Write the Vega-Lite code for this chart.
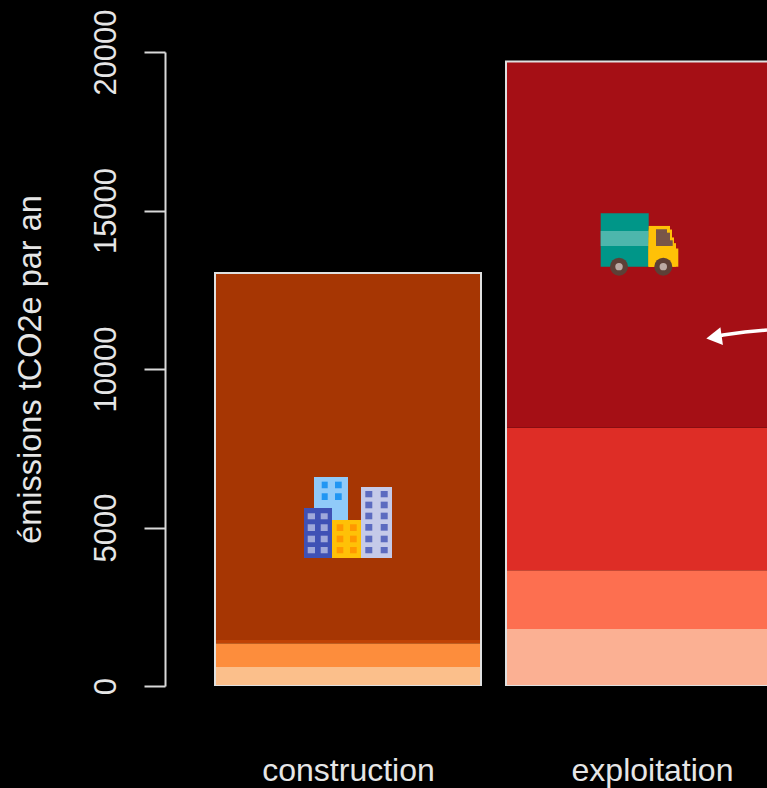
{"$schema":"https://vega.github.io/schema/vega-lite/v6.json","width":602,"height":634,"autosize":"none","padding":{"left":165,"top":52,"right":0,"bottom":102},"background":"#000000","view":{"stroke":null},
"datasets":{
"rects":[
{"part":"c1","x0":50,"x1":316,"y0":0,"y1":600},
{"part":"c2","x0":50,"x1":316,"y0":600,"y1":1350},
{"part":"c3","x0":50,"x1":316,"y0":1350,"y1":1450},
{"part":"c4","x0":50,"x1":316,"y0":1450,"y1":13030},
{"part":"e1","x0":341,"x1":633,"y0":0,"y1":1800},
{"part":"e2","x0":341,"x1":633,"y0":1800,"y1":3650},
{"part":"e3","x0":341,"x1":633,"y0":3650,"y1":8150},
{"part":"e4","x0":341,"x1":633,"y0":8150,"y1":19700},
{"part":"sky","x0":149,"x1":183,"y0":5237,"y1":6594},
{"part":"skywin","x0":156.7,"x1":162.7,"y0":6238,"y1":6446},
{"part":"skywin","x0":170,"x1":176.7,"y0":6238,"y1":6446},
{"part":"skywin","x0":156.7,"x1":162.7,"y0":5868,"y1":6080},
{"part":"skywin","x0":170,"x1":176.7,"y0":5868,"y1":6080},
{"part":"indigo","x0":139,"x1":167,"y0":4038,"y1":5616},
{"part":"indigowin","x0":142.7,"x1":150,"y0":5259,"y1":5449},
{"part":"indigowin","x0":155.7,"x1":162.7,"y0":5259,"y1":5449},
{"part":"indigowin","x0":142.7,"x1":150,"y0":4890,"y1":5102},
{"part":"indigowin","x0":155.7,"x1":162.7,"y0":4890,"y1":5102},
{"part":"indigowin","x0":142.7,"x1":150,"y0":4534,"y1":4742},
{"part":"indigowin","x0":155.7,"x1":162.7,"y0":4534,"y1":4742},
{"part":"indigowin","x0":142.7,"x1":150,"y0":4187,"y1":4385},
{"part":"indigowin","x0":155.7,"x1":162.7,"y0":4187,"y1":4385},
{"part":"amber","x0":167,"x1":196,"y0":4038,"y1":5237},
{"part":"amberwin","x0":171.7,"x1":178.3,"y0":4890,"y1":5102},
{"part":"amberwin","x0":185,"x1":191.7,"y0":4890,"y1":5102},
{"part":"amberwin","x0":171.7,"x1":178.3,"y0":4534,"y1":4742},
{"part":"amberwin","x0":185,"x1":191.7,"y0":4534,"y1":4742},
{"part":"amberwin","x0":171.7,"x1":178.3,"y0":4187,"y1":4385},
{"part":"amberwin","x0":185,"x1":191.7,"y0":4187,"y1":4385},
{"part":"lav","x0":196,"x1":227,"y0":4038,"y1":6278},
{"part":"lavwin","x0":200.3,"x1":207.3,"y0":5953,"y1":6152},
{"part":"lavwin","x0":215.7,"x1":222.7,"y0":5953,"y1":6152},
{"part":"lavwin","x0":200.3,"x1":207.3,"y0":5606,"y1":5815},
{"part":"lavwin","x0":215.7,"x1":222.7,"y0":5606,"y1":5815},
{"part":"lavwin","x0":200.3,"x1":207.3,"y0":5259,"y1":5468},
{"part":"lavwin","x0":215.7,"x1":222.7,"y0":5259,"y1":5468},
{"part":"lavwin","x0":200.3,"x1":207.3,"y0":4900,"y1":5111},
{"part":"lavwin","x0":215.7,"x1":222.7,"y0":4900,"y1":5111},
{"part":"lavwin","x0":200.3,"x1":207.3,"y0":4534,"y1":4742},
{"part":"lavwin","x0":215.7,"x1":222.7,"y0":4534,"y1":4742},
{"part":"lavwin","x0":200.3,"x1":207.3,"y0":4187,"y1":4385},
{"part":"lavwin","x0":215.7,"x1":222.7,"y0":4187,"y1":4385},
{"part":"teal","x0":435.7,"x1":483.7,"y0":13229,"y1":14914},
{"part":"tealstripe","x0":435.7,"x1":483.7,"y0":13882,"y1":14355},
{"part":"amber","x0":483.7,"x1":505,"y0":13229,"y1":14513},
{"part":"amber","x0":483.7,"x1":507,"y0":13229,"y1":14400},
{"part":"amber","x0":483.7,"x1":509,"y0":13229,"y1":14150},
{"part":"amber","x0":483.7,"x1":511,"y0":13229,"y1":13970},
{"part":"amber","x0":483.7,"x1":513.3,"y0":13229,"y1":13800},
{"part":"brown","x0":491,"x1":502,"y0":13882,"y1":14409},
{"part":"brown","x0":491,"x1":505,"y0":13882,"y1":14300},
{"part":"brown","x0":491,"x1":507.7,"y0":13882,"y1":14060}
],
"outlines":[
{"x0":50,"x1":316,"y0":0,"y1":13030},
{"x0":341,"x1":633,"y0":0,"y1":19700}
],
"wheels":[
{"x0":454,"y0":13229,"kind":"tyre"},
{"x0":498.3,"y0":13229,"kind":"tyre"},
{"x0":454,"y0":13229,"kind":"hub"},
{"x0":498.3,"y0":13229,"kind":"hub"}
],
"shaft":[
{"x0":552,"y0":11027},
{"x0":558,"y0":11074},
{"x0":580,"y0":11169},
{"x0":602,"y0":11232}
],
"head":[{"x0":549,"y0":11000}]
},
"encoding":{
"x":{"field":"x0","type":"quantitative","scale":{"domain":[0,602],"nice":false},"title":null,"axis":{"values":[183,487],"labelExpr":"datum.value==183?'construction':'exploitation'","domain":false,"ticks":false,"grid":false,"labelFont":"Liberation Sans","labelFontSize":32,"labelColor":"#e6e6e6","labelPadding":69.5}},
"y":{"field":"y0","type":"quantitative","scale":{"domain":[0,20000],"nice":false},"title":"émissions tCO2e par an","axis":{"values":[0,5000,10000,15000,20000],"format":"d","grid":false,"domainColor":"#d9d9d9","domainWidth":2,"tickColor":"#d9d9d9","tickWidth":2,"tickSize":21,"labelAngle":-90,"labelAlign":"center","labelBaseline":"bottom","labelFont":"Liberation Sans","labelFontSize":31,"labelColor":"#e6e6e6","labelPadding":22,"titleFont":"Liberation Sans","titleFontSize":32.5,"titleFontWeight":"normal","titleColor":"#e6e6e6","titlePadding":43}}
},
"layer":[
{"data":{"name":"rects"},"mark":{"type":"rect","clip":true},"encoding":{"x2":{"field":"x1"},"y2":{"field":"y1"},"color":{"field":"part","type":"nominal","legend":null,"scale":{"domain":["c1","c2","c3","c4","e1","e2","e3","e4","sky","skywin","indigo","indigowin","amber","amberwin","lav","lavwin","teal","tealstripe","brown"],"range":["#fbbf8b","#fd8d3c","#c04204","#a63603","#fbb093","#fd6f50","#de2d26","#a50f15","#90caf9","#2196f3","#3f51b5","#9fa8da","#ffc107","#ff9800","#c5cae9","#5c6bc0","#009688","#4db6ac","#795548"]}}}},
{"data":{"name":"outlines"},"mark":{"type":"rect","clip":true,"fillOpacity":0,"stroke":"#e0e0e0","strokeWidth":2},"encoding":{"x2":{"field":"x1"},"y2":{"field":"y1"}}},
{"data":{"name":"wheels"},"transform":[{"filter":"datum.kind=='tyre'"}],"mark":{"type":"point","shape":"circle","filled":true,"opacity":1,"size":324,"color":"#5d4037"}},
{"data":{"name":"wheels"},"transform":[{"filter":"datum.kind=='hub'"}],"mark":{"type":"point","shape":"circle","filled":true,"opacity":1,"size":55,"color":"#bcaaa4"}},
{"data":{"name":"shaft"},"mark":{"type":"line","color":"#ffffff","strokeWidth":3.5,"clip":true}},
{"data":{"name":"head"},"mark":{"type":"point","shape":"triangle-left","filled":true,"opacity":1,"size":320,"angle":352,"color":"#ffffff"}}
]}
